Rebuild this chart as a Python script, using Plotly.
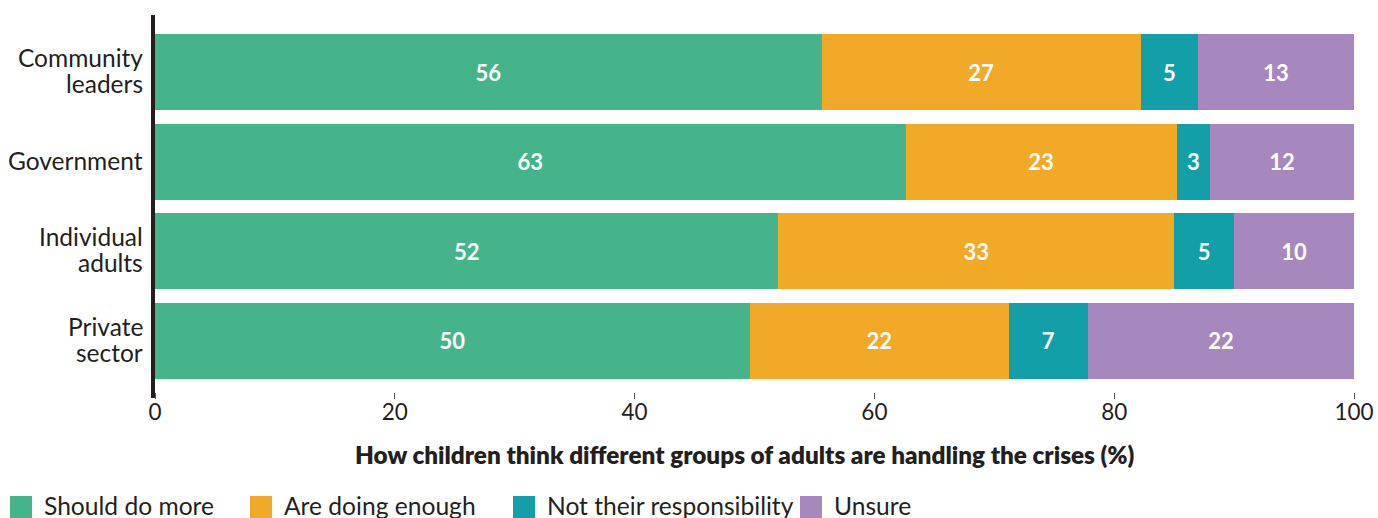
import plotly.graph_objects as go

categories = ["Community leaders", "Government", "Individual adults", "Private sector"]
category_lines = [["Community", "leaders"], ["Government"], ["Individual", "adults"], ["Private", "sector"]]
should_do_more = [55.6, 62.6, 52.0, 49.6]
are_doing_enough = [26.6, 22.6, 33.0, 21.6]
not_their_responsibility = [4.8, 2.8, 5.0, 6.6]
unsure = [13.0, 12.0, 10.0, 22.2]

series_names = ["Should do more", "Are doing enough", "Not their responsibility", "Unsure"]
series_values = [should_do_more, are_doing_enough, not_their_responsibility, unsure]
colors = ["#46B48B", "#F3A928", "#139FA7", "#A688BE"]
x_ticks = [0, 20, 40, 60, 80, 100]
x_title = "How children think different groups of adults are handling the crises (%)"

DARK = "#231F20"
FONT = "Lato"

W, H = 1378, 518
PL, PR, PT, PB = 155, 24, 15, 126   # plot area: x 155..1354, y 15..392
pw, ph = W - PL - PR, H - PT - PB
def px(x):
    return (x - PL) / pw
def py(y):
    return (H - PB - y) / ph

fig = go.Figure()
for name, vals, col in zip(series_names, series_values, colors):
    fig.add_trace(go.Bar(
        y=categories, x=vals, name=name, orientation="h",
        marker=dict(color=col, line=dict(width=0)),
        texttemplate="%{x:.0f}", textposition="inside", insidetextanchor="middle",
        textangle=0, textfont=dict(family=FONT, size=22, color="white", weight="bold"),
        showlegend=False, hoverinfo="skip",
    ))

# category labels with tight line spacing
for cat, lines in zip(categories, category_lines):
    n = len(lines)
    for i, line in enumerate(lines):
        shift = (i - (n - 1) / 2) * -26 + 1.5
        fig.add_annotation(xref="paper", yref="y", x=px(145), y=cat, yshift=shift,
                           text=line, showarrow=False, xanchor="right", yanchor="middle",
                           font=dict(family=FONT, size=24.5, color=DARK))

# y axis line (extends slightly below plot area like reference)
fig.add_shape(type="line", xref="paper", yref="paper", x0=px(153), x1=px(153),
              y0=py(398), y1=py(15), line=dict(color=DARK, width=4))

# manual legend (large square keys)
legend_x = [10, 250, 513, 800]
for lx, name, col in zip(legend_x, series_names, colors):
    fig.add_shape(type="rect", xref="paper", yref="paper",
                  x0=px(lx), x1=px(lx + 22), y0=py(519), y1=py(496),
                  fillcolor=col, line=dict(width=0))
    fig.add_annotation(xref="paper", yref="paper", x=px(lx + 32), y=py(506),
                       text=name, showarrow=False, xanchor="left", yanchor="middle",
                       font=dict(family=FONT, size=24.6, color=DARK))

fig.add_annotation(xref="paper", yref="paper", x=px(745), y=py(454),
                   text=x_title,
                   showarrow=False, xanchor="center", yanchor="middle",
                   font=dict(family=FONT, size=24.3, color=DARK, weight=800))

fig.update_layout(
    barmode="stack", bargap=0.152,
    width=W, height=H,
    margin=dict(l=PL, r=PR, t=PT, b=PB, pad=0),
    paper_bgcolor="white", plot_bgcolor="white",
    font=dict(family=FONT, color=DARK),
    showlegend=False,
    xaxis=dict(range=[0, 100], tickvals=x_ticks, ticks="outside", ticklen=6, tickwidth=1,
               tickcolor="#555555", showgrid=False, zeroline=False, showline=False,
               automargin=False, ticklabelstandoff=-6,
               tickfont=dict(family=FONT, size=22.5, color=DARK)),
    yaxis=dict(range=[3.569, -0.636], showline=False, showticklabels=False,
               showgrid=False, zeroline=False, ticks="", automargin=False),
)

fig.write_html("out.html")
